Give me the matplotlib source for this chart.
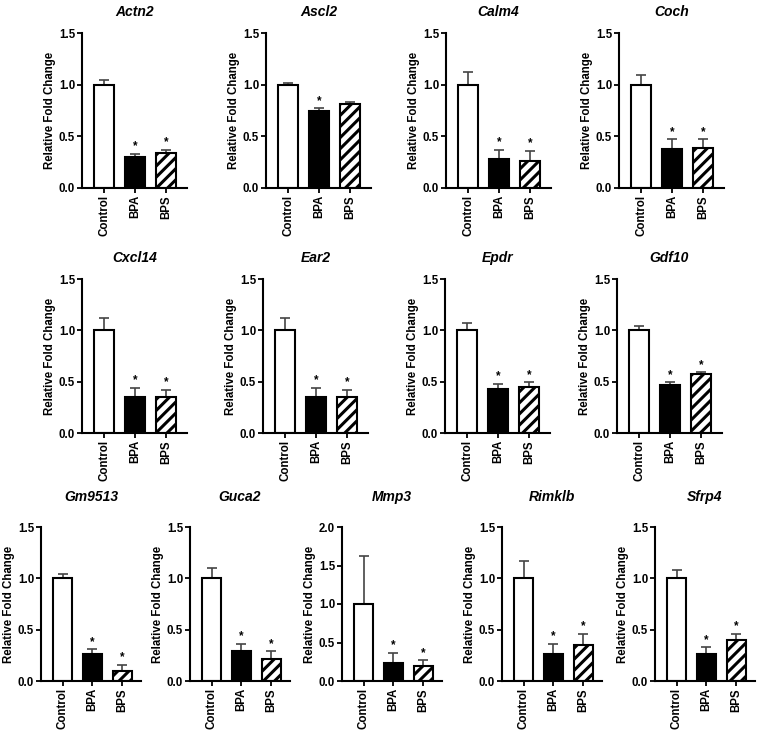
import numpy as np
import matplotlib
matplotlib.use("Agg")
import matplotlib.pyplot as plt

plt.rcParams['font.family'] = ['Liberation Sans', 'DejaVu Sans']
plt.rcParams['font.weight'] = 'bold'
plt.rcParams['hatch.linewidth'] = 2.2

groups = ["Control", "BPA", "BPS"]

genes = ["Actn2", "Ascl2", "Calm4", "Coch",
         "Cxcl14", "Ear2", "Epdr", "Gdf10",
         "Gm9513", "Guca2", "Mmp3", "Rimklb", "Sfrp4"]

# mean relative fold change (Control, BPA, BPS)
means = {
    "Actn2":  [1.00, 0.30, 0.34],
    "Ascl2":  [1.00, 0.75, 0.81],
    "Calm4":  [1.00, 0.28, 0.26],
    "Coch":   [1.00, 0.38, 0.39],
    "Cxcl14": [1.00, 0.35, 0.35],
    "Ear2":   [1.00, 0.35, 0.35],
    "Epdr":   [1.00, 0.43, 0.45],
    "Gdf10":  [1.00, 0.47, 0.57],
    "Gm9513": [1.00, 0.26, 0.10],
    "Guca2":  [1.00, 0.29, 0.21],
    "Mmp3":   [1.00, 0.24, 0.20],
    "Rimklb": [1.00, 0.26, 0.35],
    "Sfrp4":  [1.00, 0.26, 0.40],
}

# upper error (SEM)
errs = {
    "Actn2":  [0.05, 0.03, 0.03],
    "Ascl2":  [0.02, 0.02, 0.02],
    "Calm4":  [0.12, 0.09, 0.10],
    "Coch":   [0.09, 0.09, 0.08],
    "Cxcl14": [0.12, 0.09, 0.07],
    "Ear2":   [0.12, 0.09, 0.07],
    "Epdr":   [0.07, 0.05, 0.045],
    "Gdf10":  [0.04, 0.025, 0.02],
    "Gm9513": [0.04, 0.05, 0.06],
    "Guca2":  [0.10, 0.07, 0.08],
    "Mmp3":   [0.62, 0.13, 0.07],
    "Rimklb": [0.17, 0.10, 0.11],
    "Sfrp4":  [0.08, 0.07, 0.06],
}

# significance marks
stars = {g: ["", "*", "*"] for g in genes}
stars["Ascl2"] = ["", "*", ""]

ymax = {g: 1.5 for g in genes}
ymax["Mmp3"] = 2.0

# axes placement in pixels: (left spine x, width, bottom y, top y, title pad)
W, H = 763, 732
rows = [
    (genes[0:4], [82, 266, 446, 619], 105, 188, 33, 12),
    (genes[4:8], [82, 263, 445, 617], 105, 433, 279, 12),
    (genes[8:13], [41, 190, 342, 502, 655], 100, 681, 527, 19),
]

fig = plt.figure(figsize=(W / 100, H / 100), dpi=100)

x = np.arange(len(groups))
for names, lefts, wpx, ybot, ytop, tpad in rows:
    for g, lx in zip(names, lefts):
        ax = fig.add_axes([lx / W, 1 - ybot / H, wpx / W, (ybot - ytop) / H])
        m = means[g]
        e = errs[g]
        ax.errorbar(x, m, yerr=[np.zeros(3), e], fmt="none", ecolor="#444444",
                    elinewidth=1.2, capsize=3.5, capthick=1.2, zorder=1)
        bars = ax.bar(x, m, width=0.64, color=["white", "black", "white"],
                      edgecolor="black", linewidth=1.5, zorder=2)
        bars[2].set_hatch("///")
        for xi, mi, ei, s in zip(x, m, e, stars[g]):
            if s:
                ax.annotate(s, (xi, mi + ei), xytext=(0, 1), textcoords="offset points",
                            ha="center", va="bottom", fontsize=8.5, fontweight="bold")
        ax.set_xlim(-0.72, 2.62 if wpx == 100 else 2.68)
        ax.set_ylim(0, ymax[g])
        yt = np.arange(0, ymax[g] + 0.01, 0.5)
        ax.set_yticks(yt)
        ax.set_yticklabels([f"{v:.1f}" for v in yt])
        ax.set_xticks(x)
        ax.set_xticklabels(groups, rotation=90)
        ax.tick_params(labelsize=8.3, width=1.3, length=3.5, pad=1.5)
        for lab in ax.get_xticklabels() + ax.get_yticklabels():
            lab.set_fontweight("bold")
        for sp in ["top", "right"]:
            ax.spines[sp].set_visible(False)
        for sp in ["left", "bottom"]:
            ax.spines[sp].set_linewidth(1.5)
        ax.set_ylabel("Relative Fold Change", fontsize=8.3, fontweight="bold", labelpad=2)
        ax.set_title(g, fontsize=10, fontweight="bold", fontstyle="italic", pad=tpad)

fig.savefig("out.png", dpi=100)
